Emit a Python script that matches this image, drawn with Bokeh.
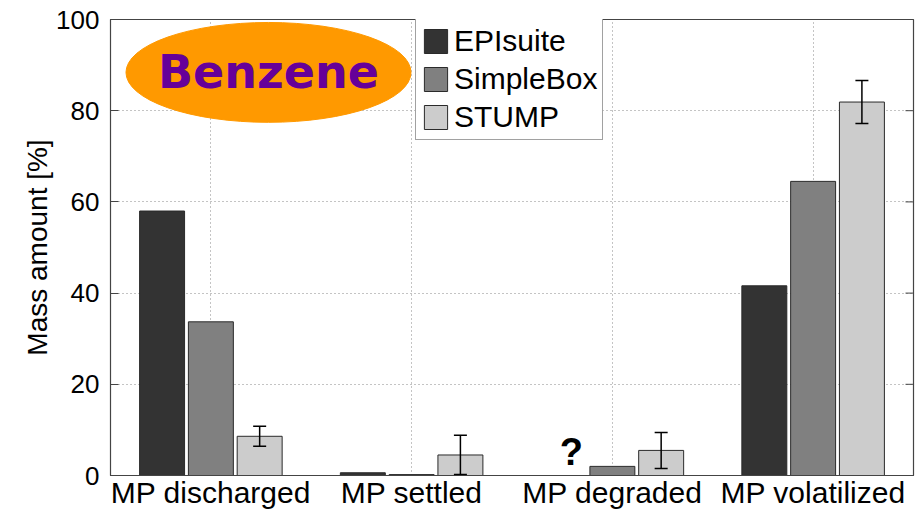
import math
from bokeh.plotting import figure
from bokeh.models import (ColumnDataSource, Whisker, TeeHead, FixedTicker,
                          Legend, LegendItem, Range1d)
from bokeh.core.properties import value
from bokeh.embed import file_html
from bokeh.resources import INLINE

categories = ["MP discharged", "MP settled", "MP degraded", "MP volatilized"]
series = ["EPIsuite", "SimpleBox", "STUMP"]
episuite = [58.0, 0.6, 0.0, 41.6]
simplebox = [33.7, 0.2, 2.0, 64.5]
stump = [8.6, 4.5, 5.5, 81.9]
stump_err = [2.2, 4.3, 3.95, 4.7]
colors = ["#333333", "#808080", "#cccccc"]
y_ticks = [0, 20, 40, 60, 80, 100]

FONT = "Liberation Sans"
X_MIN, X_MAX = 0.5, 4.5

p = figure(width=918, height=512, output_backend="svg", toolbar_location=None,
           x_range=Range1d(X_MIN, X_MAX), y_range=Range1d(0, 100),
           min_border_left=110, min_border_right=5, min_border_top=19, min_border_bottom=37)
p.background_fill_color = "white"
p.border_fill_color = "white"
p.outline_line_color = "#444444"
p.outline_line_width = 1.2

group_x = [i + 1 for i in range(len(categories))]
offsets = [-0.243, 0.0, 0.243]
bar_w = 0.224
renderers = []
for vals, off, col, name in zip([episuite, simplebox, stump], offsets, colors, series):
    src = ColumnDataSource(dict(x=[g + off for g in group_x], top=vals))
    r = p.vbar(x="x", top="top", width=bar_w, source=src, fill_color=col,
               line_color="#2a2a2a", line_width=1)
    renderers.append(r)

# error bars on STUMP
esrc = ColumnDataSource(dict(x=[g + offsets[2] for g in group_x],
                             lower=[v - e for v, e in zip(stump, stump_err)],
                             upper=[v + e for v, e in zip(stump, stump_err)]))
w = Whisker(base="x", lower="lower", upper="upper", source=esrc, dimension="height",
            line_color="black", line_width=1.5, level="overlay",
            upper_head=TeeHead(size=13, line_color="black", line_width=1.5),
            lower_head=TeeHead(size=13, line_color="black", line_width=1.5))
p.add_layout(w)

# axes
p.xaxis.ticker = FixedTicker(ticks=group_x)
p.xaxis.major_label_overrides = {g: c for g, c in zip(group_x, categories)}
p.xaxis.major_label_text_font = FONT
p.xaxis.major_label_text_font_size = "30px"
p.xaxis.major_label_text_color = "black"
p.xaxis.major_tick_in = 0
p.xaxis.major_tick_out = 0
p.xaxis.major_label_standoff = 0
p.xaxis.axis_line_color = "#444444"
p.xaxis.minor_tick_line_color = None

p.yaxis.ticker = FixedTicker(ticks=y_ticks)
p.yaxis.major_label_text_font = FONT
p.yaxis.major_label_text_font_size = "26px"
p.yaxis.major_label_text_color = "black"
p.yaxis.major_tick_in = 8
p.yaxis.major_tick_out = 0
p.yaxis.major_tick_line_color = "#444444"
p.yaxis.major_label_standoff = 11
p.yaxis.minor_tick_line_color = None
p.yaxis.axis_line_color = "#444444"
p.yaxis.axis_label = "Mass amount [%]"
p.yaxis.axis_label_text_font = FONT
p.yaxis.axis_label_text_font_size = "28px"
p.yaxis.axis_label_text_font_style = "normal"
p.yaxis.axis_label_text_color = "black"
p.yaxis.axis_label_standoff = 0

# inward ticks on the right frame edge
p.ray(x=[X_MAX] * len(y_ticks), y=y_ticks, length=8, length_units="screen",
      angle=math.pi, line_color="#444444", line_width=1)

p.xgrid.ticker = FixedTicker(ticks=group_x)
p.ygrid.ticker = FixedTicker(ticks=y_ticks)
for g in (p.xgrid, p.ygrid):
    g.grid_line_color = "#888888"
    g.grid_line_dash = "1 3"
    g.grid_line_width = 1

# Benzene label
p.ellipse(x=[1.287], y=[88.4], width=1.42, height=21.9, fill_color="#ff9900",
          line_color="#ff9900")
p.text(x=[1.287], y=[88.4], text=["Benzene"], text_font=value("DejaVu Sans"),
       text_font_style="bold", text_font_size="46px", text_color="#660099",
       text_align="center", text_baseline="middle")

# question mark
p.text(x=[2.796], y=[5.2], text=["?"], text_font=value(FONT), text_font_style="bold",
       text_font_size="38px", text_color="black", text_align="center",
       text_baseline="middle")

legend = Legend(items=[LegendItem(label=s, renderers=[r]) for s, r in zip(series, renderers)],
                location=(305, 335))
legend.label_text_font = FONT
legend.label_text_font_size = "30px"
legend.label_text_color = "black"
legend.glyph_width = 29
legend.glyph_height = 30
legend.label_height = 33
legend.spacing = 4
legend.padding = 5
legend.margin = 0
legend.label_standoff = 4
legend.border_line_color = "#444444"
legend.border_line_width = 1
legend.background_fill_alpha = 1
p.add_layout(legend)

open("out.html", "w").write(file_html(p, INLINE))
